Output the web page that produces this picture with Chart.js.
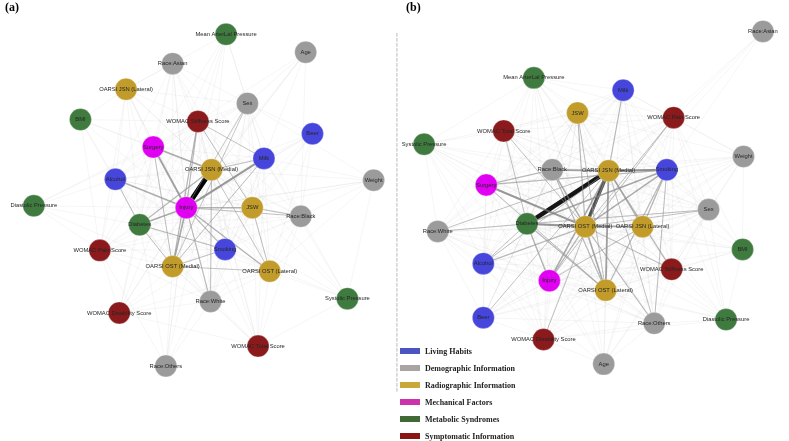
<!DOCTYPE html>
<html>
<head>
<meta charset="utf-8">
<script src="https://cdn.jsdelivr.net/npm/chart.js@4.4.1/dist/chart.umd.min.js"></script>
<style>
  html, body { margin: 0; padding: 0; background: #fff; }
  #wrap { width: 789px; height: 441px; position: relative; }
</style>
</head>
<body>
<div id="wrap"><canvas id="netChart"></canvas></div>
<script>
// node names, one per node (same order in both panels)
const nodeNames = [
  "Beer", "Milk", "Alcohol", "Smoking",
  "Age", "Sex", "Weight", "Race:Asian", "Race:Black", "Race:White", "Race:Others",
  "JSW", "OARSI JSN (Medial)", "OARSI JSN (Lateral)", "OARSI OST (Medial)", "OARSI OST (Lateral)",
  "Injury", "Surgery",
  "BMI", "Diabetes", "Systolic Pressure", "Diastolic Pressure", "Mean ArterLal Pressure",
  "WOMAC Pain Score", "WOMAC Stiffness Score", "WOMAC Disability Score", "WOMAC Total Score"
];
// category index for each node
const nodeGroup = [0,0,0,0, 1,1,1,1,1,1,1, 2,2,2,2,2, 3,3, 4,4,4,4,4, 5,5,5,5];

const groupNames = ["Living Habits", "Demographic Information", "Radiographic Information",
  "Mechanical Factors", "Metabolic Syndromes", "Symptomatic Information"];
const nodeColors = ["#4646dc", "#9b9b9b", "#c29c2a", "#e000f2", "#3f7a3f", "#8a1a1c"];
const legendColors = ["#4a55c2", "#a8a4a4", "#c9a83a", "#cc33aa", "#3f6a35", "#8a1515"];

// layout positions, panel (a)
const posAx = [310,260,107,220, 303,243,373,166,298,205,159, 248,206,118,166,266, 180,146, 71,132,346,23,221, 91,192,111,254];
const posAy = [129,155,177,251, 43,97,178,55,216,306,374, 207,167,82,269,274, 207,143, 114,225,303,205,24, 252,116,318,353];
// layout positions, panel (b)
const posBx = [486,630,486,675, 610,718,754,774,557,439,662, 583,615,650,591,612, 554,489, 753,531,425,736,538, 682,680,548,507];
const posBy = [323,83,266,167, 372,209,153,21,167,232,329, 107,168,227,227,294, 284,183, 251,224,140,325,70, 112,272,346,126];

// strong edges [from, to, weight]
const strongA = [
  [16,12,5], [16,1,2], [16,17,1.8], [16,2,1.5], [16,19,1.6], [16,11,1.4], [16,14,1.6], [16,15,1.4],
  [16,9,1.2], [16,3,1.2], [17,12,1.5], [24,14,1.2], [24,16,1.2], [19,12,1.2], [19,3,1.1], [14,3,1.0],
  [8,11,1.0], [8,16,1.0], [11,15,1.0], [14,15,0.9], [2,19,1.0], [9,12,1.0], [1,14,1.0], [17,14,1.0],
  [19,14,1.0], [24,11,1.0], [24,1,0.9], [5,14,0.9], [5,16,0.9], [12,15,0.9], [1,12,1.0]
];
const strongB = [
  [19,12,4.5], [12,14,3.5], [12,3,2.2], [8,12,1.8], [17,14,2], [19,14,2], [19,3,1.6], [16,12,1.6],
  [16,19,1.4], [14,15,1.6], [13,14,1.4], [12,15,1.8], [3,14,1.5], [3,13,1.3], [17,3,1.2], [17,8,1.2],
  [8,14,1.5], [8,15,1.2], [12,13,1.4], [16,14,1.2], [2,14,1.2], [2,12,1.0], [19,15,1.2], [24,12,1.2],
  [24,14,1.0], [1,12,1.2], [11,14,1.2], [11,15,1.0], [10,12,1.0], [10,14,1.1], [10,3,1.0], [5,14,1.0],
  [5,19,1.0], [26,14,1.0], [26,19,1.0], [23,16,1.0], [23,14,1.0], [9,12,1.0], [9,19,1.0], [25,12,1.0],
  [15,3,1.2], [16,13,1.0], [19,13,1.1], [0,12,0.9], [17,15,1.0], [2,19,1.0]
];

// faint edges, neighbour list per node
const lightA = [
  [1,5,8,11,12,14,16,3,15],
  [2,3,5,8,9,11,12,14,15,17,19,22,24,7,4,6,20,26],
  [3,5,8,9,11,12,14,15,17,19,21,23,24,13,18,7],
  [5,8,9,11,12,14,15,17,19,23,24,20,26,25,10],
  [5,12,16,24,8],
  [7,8,9,11,12,14,15,16,17,19,24,22,13,6],
  [8,11,12,15,16,20],
  [12,14,16,17,19,24,13,11],
  [9,11,12,14,15,17,19,24,20,23,26],
  [11,12,14,15,17,19,23,24,25,10,26],
  [12,14,16,19,23],
  [12,14,15,17,19,23,24,13,26,20],
  [13,14,15,17,19,22,23,24,25,26,18],
  [14,16,17,19,24,22,18,23],
  [15,17,19,23,24,25,21,26],
  [17,19,24,26,20,25],
  [18,20,21,22,23,25,26,13,7,10,0,4,6],
  [18,19,23,24,22,21,25],
  [19,24,23],
  [21,23,24,25,26,22],
  [24,26],
  [23,24],
  [24],
  [24,25],
  [25,26],
  [26],
  []
];
const lightB = [
  [2,3,5,8,9,11,12,13,14,15,16,17,19,24,25,10],
  [2,3,5,8,9,11,13,14,15,16,17,19,22,23,24,26,6,10],
  [3,5,8,9,11,12,13,15,16,17,20,22,24,25,26,10],
  [4,5,6,8,9,11,16,18,19,21,22,23,24,25,26,10],
  [8,9,12,13,14,15,16,19,24,25,10,5],
  [6,8,9,11,12,13,15,16,17,18,21,23,24,26,10],
  [8,11,12,13,14,15,16,19,23,24,18],
  [12,14,23,3],
  [9,10,11,13,16,19,20,22,23,24,25,26],
  [11,13,14,15,16,17,20,24,25,26,10],
  [11,13,15,16,17,19,21,24,25],
  [12,13,16,17,19,20,22,23,24,25,26],
  [17,18,20,21,22,23,26],
  [15,17,18,20,21,22,23,24,25,26],
  [16,18,20,21,22,24,25],
  [16,17,18,21,22,23,24,25,26],
  [17,18,20,21,22,24,25,26],
  [19,20,22,23,24,25,26],
  [19,23,24,21],
  [20,21,22,23,24,25],
  [22,24,25,26],
  [23,24,25],
  [23,24,26],
  [24,25,26],
  [25,26],
  [26],
  []
];

const panels = [
  { xs: posAx, ys: posAy, strong: strongA, light: lightA, title: "(a)", tx: 5, ty: 8 },
  { xs: posBx, ys: posBy, strong: strongB, light: lightB, title: "(b)", tx: 406, ty: 8 }
];

// one scatter dataset per category, holding that category's nodes of both panels
const datasets = groupNames.map((name, g) => {
  const pts = [];
  panels.forEach(p => {
    nodeGroup.forEach((grp, i) => {
      if (grp === g) pts.push({ x: p.xs[i], y: p.ys[i] });
    });
  });
  return {
    label: name,
    data: pts,
    pointRadius: 11,
    pointHoverRadius: 11,
    pointBackgroundColor: nodeColors[g],
    pointBorderColor: "rgba(255,255,255,0.6)",
    pointBorderWidth: 0.5,
    showLine: false
  };
});

// edges drawn under the nodes
const edgePlugin = {
  id: "edges",
  beforeDatasetsDraw(chart) {
    const { ctx, scales: { x, y } } = chart;
    ctx.save();
    ctx.lineCap = "round";
    panels.forEach(p => {
      const px = i => x.getPixelForValue(p.xs[i]);
      const py = i => y.getPixelForValue(p.ys[i]);
      ctx.strokeStyle = "rgba(185,185,185,0.22)";
      ctx.lineWidth = 0.6;
      p.light.forEach((list, i) => {
        list.forEach(j => {
          ctx.beginPath();
          ctx.moveTo(px(i), py(i));
          ctx.lineTo(px(j), py(j));
          ctx.stroke();
        });
      });
      p.strong.forEach(([a, b, w]) => {
        const shade = Math.max(0, Math.round(190 - w * 40));
        ctx.strokeStyle = `rgba(${shade},${shade},${shade},${Math.min(1, 0.5 + w * 0.1)})`;
        ctx.lineWidth = w;
        ctx.beginPath();
        ctx.moveTo(px(a), py(a));
        ctx.lineTo(px(b), py(b));
        ctx.stroke();
      });
    });
    // dashed divider
    ctx.strokeStyle = "#aaaaaa";
    ctx.lineWidth = 0.8;
    ctx.setLineDash([3, 2]);
    ctx.beginPath();
    ctx.moveTo(x.getPixelForValue(397), y.getPixelForValue(23));
    ctx.lineTo(x.getPixelForValue(397), y.getPixelForValue(402));
    ctx.stroke();
    ctx.restore();
  }
};

// node names, panel titles and category legend
const textPlugin = {
  id: "texts",
  afterDatasetsDraw(chart) {
    const { ctx, scales: { x, y } } = chart;
    ctx.save();
    ctx.textAlign = "center";
    ctx.textBaseline = "middle";
    ctx.font = "5.8px 'Liberation Sans', Arial, sans-serif";
    ctx.fillStyle = "#262626";
    panels.forEach(p => {
      nodeNames.forEach((name, i) => {
        ctx.fillText(name, x.getPixelForValue(p.xs[i]), y.getPixelForValue(p.ys[i]));
      });
    });
    ctx.font = "bold 12px 'Liberation Serif', 'Times New Roman', serif";
    ctx.fillStyle = "#000";
    ctx.textAlign = "left";
    panels.forEach(p => ctx.fillText(p.title, p.tx, p.ty));

    ctx.font = "bold 8px 'Liberation Serif', 'Times New Roman', serif";
    groupNames.forEach((name, g) => {
      const ly = 351 + g * 17;
      ctx.fillStyle = legendColors[g];
      ctx.fillRect(400, ly - 3, 20, 6);
      ctx.fillStyle = "#222";
      ctx.fillText(name, 425, ly + 0.5);
    });
    ctx.restore();
  }
};

new Chart(document.getElementById("netChart"), {
  type: "scatter",
  data: { datasets },
  options: {
    responsive: true,
    maintainAspectRatio: false,
    animation: false,
    layout: { padding: 0 },
    plugins: {
      legend: { display: false },
      tooltip: { enabled: false }
    },
    scales: {
      x: { type: "linear", min: 0, max: 789, display: false },
      y: { type: "linear", min: 0, max: 441, reverse: true, display: false }
    }
  },
  plugins: [edgePlugin, textPlugin]
});
</script>
</body>
</html>
